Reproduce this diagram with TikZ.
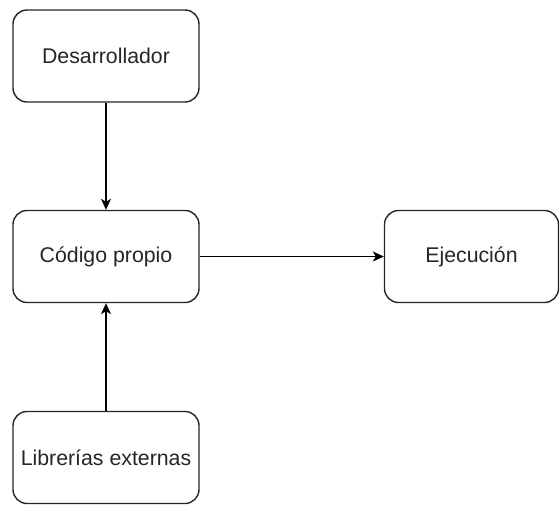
\documentclass[tikz,border=0pt]{standalone}
\usepackage{fontspec}
\setmainfont{Liberation Sans}
\usetikzlibrary{arrows.meta}
\begin{document}
\begin{tikzpicture}[x=1pt,y=-1pt,
  block/.style={draw=black!85, line width=1.4pt, rounded corners=14pt, fill=white,
    minimum width=186pt, minimum height=92pt, inner sep=0pt,
    font=\fontsize{21.3}{25}\selectfont, text=black!85},
  link/.style={draw=black, line width=1.1pt,
    -{Stealth[length=11pt,width=10pt,inset=3pt]}}]
  \useasboundingbox (0,0) rectangle (560,504);
  \node[block] (dev) at (106,56) {Desarrollador};
  \node[block] (code) at (106,256.5) {Código propio};
  \node[block, minimum width=174pt] (run) at (471.5,256.5) {Ejecución};
  \node[block] (libs) at (106,457.5) {Librerías externas};
  \draw[link] (dev) -- (code);
  \draw[link] (libs) -- (code);
  \draw[link] (code) -- (run);
\end{tikzpicture}
\end{document}
